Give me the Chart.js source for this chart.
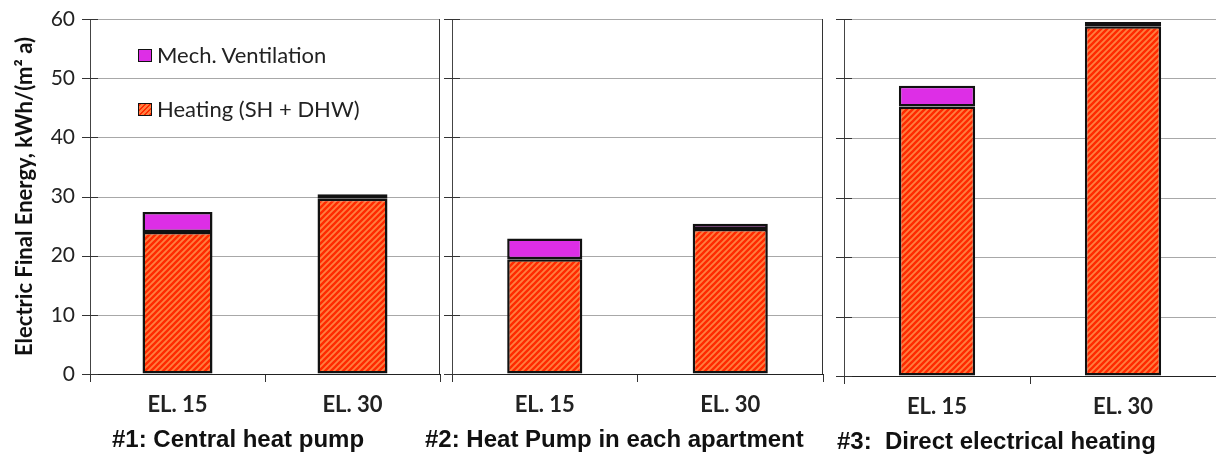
<!DOCTYPE html>
<html>
<head>
<meta charset="utf-8">
<script src="https://cdn.jsdelivr.net/npm/chart.js@4/dist/chart.umd.min.js"></script>
<style>
  html, body { margin: 0; padding: 0; background: #fff; }
  #wrap { position: relative; width: 1216px; height: 457px; overflow: hidden; background: #fff; }
  .panel { position: absolute; top: 0; height: 457px; }
  .panel canvas { display: block; }
  .gtitle { position: absolute; font-family: "Liberation Sans", Arial, sans-serif; font-weight: bold; font-size: 24px; line-height: 28px; color: #111; white-space: pre; }
  .leg { position: absolute; font-family: Lato, "Open Sans", sans-serif; font-size: 22px; line-height: 26px; color: #222; white-space: nowrap; }
  .sw { position: absolute; width: 12px; height: 11px; border: 1.5px solid #111; }
</style>
</head>
<body>
<div id="wrap">
  <div class="panel" style="left:0;width:445px"><canvas id="c1" width="445" height="457"></canvas></div>
  <div class="panel" style="left:440px;width:390px"><canvas id="c2" width="390" height="457"></canvas></div>
  <div class="panel" style="left:830px;width:386px"><canvas id="c3" width="386" height="457"></canvas></div>

  <div class="sw" style="left:138px;top:49px;background:#DD2EE6"></div>
  <div class="leg" style="left:157px;top:42px">Mech. Ventilation</div>
  <div class="sw" style="left:138px;top:103px;background:repeating-linear-gradient(135deg,#FF2A00 0 1.6px,#FF7F40 1.6px 3.6px)"></div>
  <div class="leg" style="left:157px;top:96px">Heating (SH + DHW)</div>

  <div class="gtitle" id="t1" style="left:112px;top:425px"></div>
  <div class="gtitle" id="t2" style="left:425px;top:425px"></div>
  <div class="gtitle" id="t3" style="left:837px;top:427px"></div>
</div>
<script>
// ---- data ----
const categories = ['EL. 15', 'EL. 30'];
const groupTitles = ['#1: Central heat pump', '#2: Heat Pump in each apartment', '#3:  Direct electrical heating'];
const seriesNames = ['Heating (SH + DHW)', 'Mech. Ventilation'];
const heatingP1 = [24.0, 29.6];
const ventP1 = [3.4, 0.8];
const heatingP2 = [19.4, 24.5];
const ventP2 = [3.5, 0.9];
const heatingP3 = [45.3, 58.8];
const ventP3 = [3.5, 0.7];
const yMin = 0, yMax = 60, yStep = 10;
const yTitle = 'Electric Final Energy, kWh/(m² a)';

document.getElementById('t1').textContent = groupTitles[0];
document.getElementById('t2').textContent = groupTitles[1];
document.getElementById('t3').textContent = groupTitles[2];

// hatch pattern
function makePattern() {
  const s = 6;
  const c = document.createElement('canvas');
  c.width = s; c.height = s;
  const g = c.getContext('2d');
  g.fillStyle = '#FF7F40';
  g.fillRect(0, 0, s, s);
  g.strokeStyle = '#FF2A00';
  g.lineWidth = 2.4;
  g.beginPath();
  g.moveTo(0, s); g.lineTo(s, 0);
  g.moveTo(-s / 2, s / 2); g.lineTo(s / 2, -s / 2);
  g.moveTo(s / 2, s * 1.5); g.lineTo(s * 1.5, s / 2);
  g.stroke();
  return g.createPattern(c, 'repeat');
}
const hatch = makePattern();

// horizontal grid lines + inner tick marks + right border, from the chart's own y scale
const gridPlugin = {
  id: 'gridPlugin',
  beforeDatasetsDraw(chart) {
    const ctx = chart.ctx;
    const ys = chart.scales.y;
    const a = chart.chartArea;
    ctx.save();
    ctx.strokeStyle = '#A8A8A8';
    ctx.lineWidth = 1;
    ctx.beginPath();
    ys.ticks.forEach(t => {
      if (t.value === yMin) return;
      const py = Math.round(ys.getPixelForValue(t.value)) + 0.5;
      ctx.moveTo(a.left, py);
      ctx.lineTo(a.right, py);
    });
    ctx.stroke();
    ctx.restore();
  },
  afterDraw(chart, args, opts) {
    const ctx = chart.ctx;
    const ys = chart.scales.y;
    const a = chart.chartArea;
    ctx.save();
    ctx.strokeStyle = '#333';
    ctx.lineWidth = 1;
    ctx.beginPath();
    ys.ticks.forEach(t => {
      const py = Math.round(ys.getPixelForValue(t.value)) + 0.5;
      ctx.moveTo(a.left - 8, py);
      ctx.lineTo(a.left + 8, py);
    });
    if (opts.rightBorder) {
      const x = Math.round(a.right) - 0.5;
      ctx.moveTo(x, a.top);
      ctx.lineTo(x, a.bottom);
    }
    ctx.stroke();
    ctx.restore();
  }
};

function makeChart(id, heat, vent, cfg) {
  return new Chart(document.getElementById(id), {
    type: 'bar',
    data: {
      labels: categories,
      datasets: [
        { label: seriesNames[0], data: heat, backgroundColor: hatch, borderColor: '#111', borderWidth: 2.5, borderSkipped: false, barPercentage: cfg.bp, categoryPercentage: 1 },
        { label: seriesNames[1], data: vent, backgroundColor: '#DD2EE6', borderColor: '#111', borderWidth: 2.5, borderSkipped: false, barPercentage: cfg.bp, categoryPercentage: 1 }
      ]
    },
    options: {
      responsive: false,
      animation: false,
      devicePixelRatio: 1,
      layout: { padding: { top: 19, right: cfg.padRight, bottom: 0, left: 0 } },
      plugins: { legend: { display: false }, tooltip: { enabled: false }, gridPlugin: { rightBorder: cfg.rightBorder } },
      scales: {
        x: {
          stacked: true,
          offset: true,
          grid: { offset: true, drawOnChartArea: false, tickLength: 8, tickColor: '#333', color: '#333' },
          border: { color: '#222', width: 1 },
          ticks: { color: '#222', padding: 10, font: { family: 'Lato', size: 22, weight: 'bold' } },
          afterFit(s) { s.height = cfg.xHeight; s.paddingLeft = 0; s.paddingRight = 0; }
        },
        y: {
          stacked: true,
          min: yMin, max: yMax,
          ticks: { stepSize: yStep, display: cfg.showLabels, color: '#222', padding: 15, font: { family: 'Lato', size: 21 } },
          grid: { drawOnChartArea: false, drawTicks: false, tickLength: 8 },
          border: { color: '#444', width: 1 },
          title: { display: cfg.showLabels, text: yTitle, color: '#111', padding: { top: 12, bottom: 0 }, font: { family: 'Lato', size: 22, weight: 'bold' } },
          afterFit(s) { s.width = cfg.yWidth; s.paddingTop = 0; s.paddingBottom = 0; }
        }
      }
    },
    plugins: [gridPlugin]
  });
}

makeChart('c1', heatingP1, ventP1, { bp: 0.4, padRight: 5, xHeight: 83, yWidth: 90, showLabels: true, rightBorder: true });
makeChart('c2', heatingP2, ventP2, { bp: 0.405, padRight: 7, xHeight: 83, yWidth: 12, showLabels: false, rightBorder: true });
makeChart('c3', heatingP3, ventP3, { bp: 0.41, padRight: 0, xHeight: 81, yWidth: 14, showLabels: false, rightBorder: false });
</script>
</body>
</html>
